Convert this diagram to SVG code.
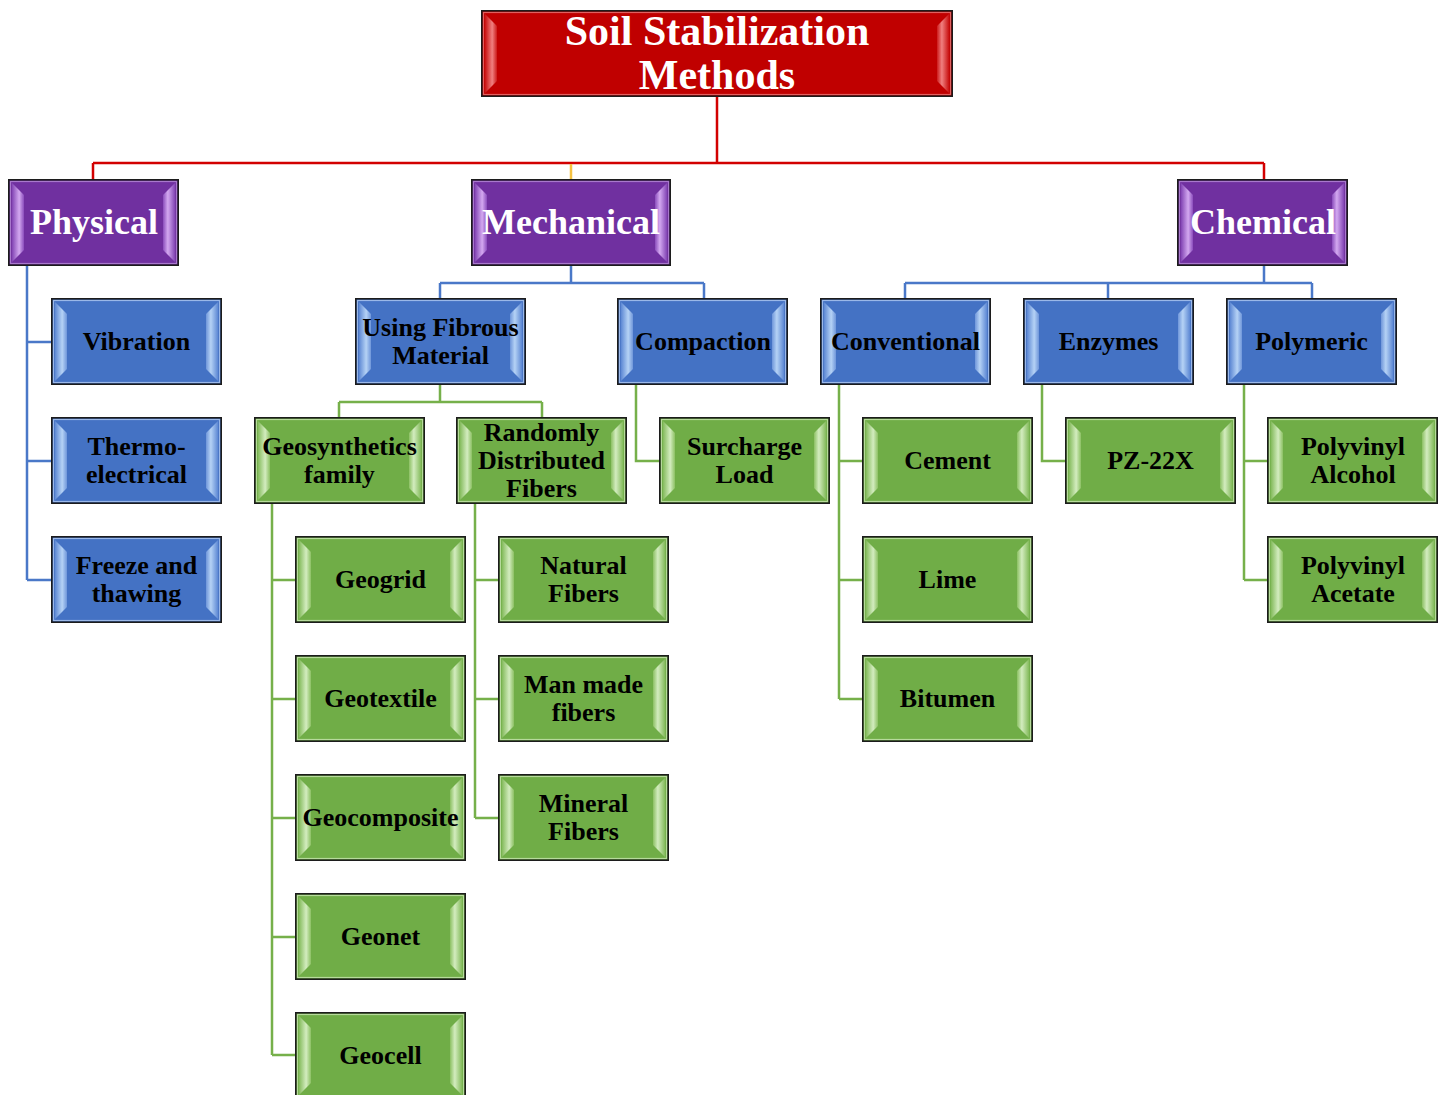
<svg xmlns="http://www.w3.org/2000/svg" xmlns:xlink="http://www.w3.org/1999/xlink" width="1446" height="1095" viewBox="0 0 1446 1095">
  <style>
    .lbl { font-family: "Liberation Serif", "Times New Roman", serif; font-weight: bold; font-size: 26px; fill: #000; text-anchor: middle; }
    .cat { font-family: "Liberation Serif", "Times New Roman", serif; font-weight: bold; font-size: 36px; fill: #fff; text-anchor: middle; }
    .ttl { font-family: "Liberation Serif", "Times New Roman", serif; font-weight: bold; font-size: 42px; fill: #fff; text-anchor: middle; }
    .edge { fill: none; stroke-width: 2.5; }
    .red { stroke: #d20000; }
    .gold { stroke: #f5c242; }
    .blue { stroke: #4a78c8; }
    .green { stroke: #76b04a; }
    .frame { fill: none; stroke: #1c1c1c; stroke-width: 1.6; }
  </style>
  <defs>
    <linearGradient id="bvBlueL" x1="0" x2="1" y1="0" y2="0">
      <stop offset="0" stop-color="#5d88d4"/>
      <stop offset="0.6" stop-color="#b5d2f5"/>
      <stop offset="1" stop-color="#6f96da"/>
    </linearGradient>
    <linearGradient id="bvBlueR" x1="1" x2="0" y1="0" y2="0">
      <stop offset="0" stop-color="#5d88d4"/>
      <stop offset="0.6" stop-color="#b5d2f5"/>
      <stop offset="1" stop-color="#6f96da"/>
    </linearGradient>
    <linearGradient id="bvGreenL" x1="0" x2="1" y1="0" y2="0">
      <stop offset="0" stop-color="#84bb5c"/>
      <stop offset="0.6" stop-color="#d3ecbf"/>
      <stop offset="1" stop-color="#8cc063"/>
    </linearGradient>
    <linearGradient id="bvGreenR" x1="1" x2="0" y1="0" y2="0">
      <stop offset="0" stop-color="#84bb5c"/>
      <stop offset="0.6" stop-color="#d3ecbf"/>
      <stop offset="1" stop-color="#8cc063"/>
    </linearGradient>
    <linearGradient id="bvPurpleL" x1="0" x2="1" y1="0" y2="0">
      <stop offset="0" stop-color="#8244b4"/>
      <stop offset="0.6" stop-color="#d3a8f0"/>
      <stop offset="1" stop-color="#8a4cbc"/>
    </linearGradient>
    <linearGradient id="bvPurpleR" x1="1" x2="0" y1="0" y2="0">
      <stop offset="0" stop-color="#8244b4"/>
      <stop offset="0.6" stop-color="#d3a8f0"/>
      <stop offset="1" stop-color="#8a4cbc"/>
    </linearGradient>
    <linearGradient id="bvRedL" x1="0" x2="1" y1="0" y2="0">
      <stop offset="0" stop-color="#c81010"/>
      <stop offset="0.6" stop-color="#f08080"/>
      <stop offset="1" stop-color="#cc1a1a"/>
    </linearGradient>
    <linearGradient id="bvRedR" x1="1" x2="0" y1="0" y2="0">
      <stop offset="0" stop-color="#c81010"/>
      <stop offset="0.6" stop-color="#f08080"/>
      <stop offset="1" stop-color="#cc1a1a"/>
    </linearGradient>

    <!-- bevelled tiles, 171 x 87 -->
    <symbol id="tileBlue" overflow="visible">
      <rect x="0" y="0" width="171" height="87" fill="#4472c4"/>
      <rect x="2.5" y="2.5" width="166" height="82" fill="none" stroke="#9bb8e8" stroke-width="1.2"/>
      <polygon points="4,4 16,16 16,71 4,83" fill="url(#bvBlueL)"/>
      <polygon points="167,4 155,16 155,71 167,83" fill="url(#bvBlueR)"/>
      <rect x="0.8" y="0.8" width="169.4" height="85.4" class="frame"/>
    </symbol>
    <symbol id="tileGreen" overflow="visible">
      <rect x="0" y="0" width="171" height="87" fill="#70ad47"/>
      <rect x="2.5" y="2.5" width="166" height="82" fill="none" stroke="#b7da9c" stroke-width="1.2"/>
      <polygon points="4,4 16,16 16,71 4,83" fill="url(#bvGreenL)"/>
      <polygon points="167,4 155,16 155,71 167,83" fill="url(#bvGreenR)"/>
      <rect x="0.8" y="0.8" width="169.4" height="85.4" class="frame"/>
    </symbol>
    <symbol id="tilePurple" overflow="visible">
      <rect x="0" y="0" width="171" height="87" fill="#7030a0"/>
      <rect x="2.5" y="2.5" width="166" height="82" fill="none" stroke="#a878cc" stroke-width="1.2"/>
      <polygon points="4,4 16,16 16,71 4,83" fill="url(#bvPurpleL)"/>
      <polygon points="167,4 155,16 155,71 167,83" fill="url(#bvPurpleR)"/>
      <rect x="0.8" y="0.8" width="169.4" height="85.4" class="frame"/>
    </symbol>
  </defs>

  <rect width="1446" height="1095" fill="#fff"/>

  <!-- connectors -->
  <g id="connectors">
    <!-- root to categories -->
    <path class="edge red" d="M717 97 V163 M93 163 H1264 M93 163 V179 M1264 163 V179"/>
    <path class="edge gold" d="M571 164 V179"/>
    <!-- Physical -->
    <path class="edge blue" d="M27 266 V580 M27 342 H51 M27 461 H51 M27 580 H51"/>
    <!-- Mechanical -->
    <path class="edge blue" d="M571 266 V283 M440 283 H704 M440 283 V298 M704 283 V298"/>
    <!-- Chemical -->
    <path class="edge blue" d="M1264 266 V283 M905 283 H1312 M905 283 V298 M1108 283 V298 M1312 283 V298"/>
    <!-- Using Fibrous Material -->
    <path class="edge green" d="M440 385 V402 M339 402 H542 M339 402 V417 M542 402 V417"/>
    <!-- Geosynthetics family -->
    <path class="edge green" d="M272 504 V1055 M272 580 H295 M272 699 H295 M272 818 H295 M272 937 H295 M272 1055 H295"/>
    <!-- Randomly Distributed Fibers -->
    <path class="edge green" d="M475 504 V818 M475 580 H498 M475 699 H498 M475 818 H498"/>
    <!-- Compaction -->
    <path class="edge green" d="M636 385 V461 H659"/>
    <!-- Conventional -->
    <path class="edge green" d="M839 385 V699 M839 461 H862 M839 580 H862 M839 699 H862"/>
    <!-- Enzymes -->
    <path class="edge green" d="M1042 385 V461 H1065"/>
    <!-- Polymeric -->
    <path class="edge green" d="M1244 385 V580 M1244 461 H1267 M1244 580 H1267"/>
  </g>

  <!-- root -->
  <g id="n-root">
    <rect x="481" y="10" width="472" height="87" fill="#c00000"/>
    <rect x="483.5" y="12.5" width="467" height="82" fill="none" stroke="#e06060" stroke-width="1.2"/>
    <polygon points="485,14 497,26 497,81 485,93" fill="url(#bvRedL)"/>
    <polygon points="949,14 937,26 937,81 949,93" fill="url(#bvRedR)"/>
    <rect x="481.8" y="10.8" width="470.4" height="85.4" class="frame"/>
    <text class="ttl" x="717" y="45">Soil Stabilization</text>
    <text class="ttl" x="717" y="89">Methods</text>
  </g>

  <!-- categories -->
  <g id="n-physical">
    <use xlink:href="#tilePurple" x="8" y="179"/>
    <text class="cat" x="94" y="234">Physical</text>
  </g>
  <g id="n-mechanical">
    <rect x="471" y="179" width="200" height="87" fill="#7030a0"/>
    <rect x="473.5" y="181.5" width="195" height="82" fill="none" stroke="#a878cc" stroke-width="1.2"/>
    <polygon points="475,183 487,195 487,250 475,262" fill="url(#bvPurpleL)"/>
    <polygon points="667,183 655,195 655,250 667,262" fill="url(#bvPurpleR)"/>
    <rect x="471.8" y="179.8" width="198.4" height="85.4" class="frame"/>
    <text class="cat" x="571" y="234">Mechanical</text>
  </g>
  <g id="n-chemical">
    <use xlink:href="#tilePurple" x="1177" y="179"/>
    <text class="cat" x="1263" y="234">Chemical</text>
  </g>

  <!-- Physical methods -->
  <g id="n-vibration">
    <use xlink:href="#tileBlue" x="51" y="298"/>
    <text class="lbl" x="136.5" y="350">Vibration</text>
  </g>
  <g id="n-thermo">
    <use xlink:href="#tileBlue" x="51" y="417"/>
    <text class="lbl" x="136.5" y="455">Thermo-</text>
    <text class="lbl" x="136.5" y="483">electrical</text>
  </g>
  <g id="n-freeze">
    <use xlink:href="#tileBlue" x="51" y="536"/>
    <text class="lbl" x="136.5" y="574">Freeze and</text>
    <text class="lbl" x="136.5" y="602">thawing</text>
  </g>

  <!-- Mechanical methods -->
  <g id="n-fibrous">
    <use xlink:href="#tileBlue" x="355" y="298"/>
    <text class="lbl" x="440.5" y="336">Using Fibrous</text>
    <text class="lbl" x="440.5" y="364">Material</text>
  </g>
  <g id="n-compaction">
    <use xlink:href="#tileBlue" x="617" y="298"/>
    <text class="lbl" x="703" y="350">Compaction</text>
  </g>

  <!-- Chemical methods -->
  <g id="n-conventional">
    <use xlink:href="#tileBlue" x="820" y="298"/>
    <text class="lbl" x="905.5" y="350">Conventional</text>
  </g>
  <g id="n-enzymes">
    <use xlink:href="#tileBlue" x="1023" y="298"/>
    <text class="lbl" x="1108.5" y="350">Enzymes</text>
  </g>
  <g id="n-polymeric">
    <use xlink:href="#tileBlue" x="1226" y="298"/>
    <text class="lbl" x="1311.5" y="350">Polymeric</text>
  </g>

  <!-- Fibrous material branches -->
  <g id="n-geosynthetics">
    <use xlink:href="#tileGreen" x="254" y="417"/>
    <text class="lbl" x="339.5" y="455">Geosynthetics</text>
    <text class="lbl" x="339.5" y="483">family</text>
  </g>
  <g id="n-randomly">
    <use xlink:href="#tileGreen" x="456" y="417"/>
    <text class="lbl" x="541.5" y="441">Randomly</text>
    <text class="lbl" x="541.5" y="469">Distributed</text>
    <text class="lbl" x="541.5" y="497">Fibers</text>
  </g>
  <g id="n-surcharge">
    <use xlink:href="#tileGreen" x="659" y="417"/>
    <text class="lbl" x="744.5" y="455">Surcharge</text>
    <text class="lbl" x="744.5" y="483">Load</text>
  </g>

  <!-- Geosynthetics -->
  <g id="n-geogrid">
    <use xlink:href="#tileGreen" x="295" y="536"/>
    <text class="lbl" x="380.5" y="588">Geogrid</text>
  </g>
  <g id="n-geotextile">
    <use xlink:href="#tileGreen" x="295" y="655"/>
    <text class="lbl" x="380.5" y="707">Geotextile</text>
  </g>
  <g id="n-geocomposite">
    <use xlink:href="#tileGreen" x="295" y="774"/>
    <text class="lbl" x="380.5" y="826">Geocomposite</text>
  </g>
  <g id="n-geonet">
    <use xlink:href="#tileGreen" x="295" y="893"/>
    <text class="lbl" x="380.5" y="945">Geonet</text>
  </g>
  <g id="n-geocell">
    <use xlink:href="#tileGreen" x="295" y="1012"/>
    <text class="lbl" x="380.5" y="1064">Geocell</text>
  </g>

  <!-- Fibers -->
  <g id="n-natural">
    <use xlink:href="#tileGreen" x="498" y="536"/>
    <text class="lbl" x="583.5" y="574">Natural</text>
    <text class="lbl" x="583.5" y="602">Fibers</text>
  </g>
  <g id="n-manmade">
    <use xlink:href="#tileGreen" x="498" y="655"/>
    <text class="lbl" x="583.5" y="693">Man made</text>
    <text class="lbl" x="583.5" y="721">fibers</text>
  </g>
  <g id="n-mineral">
    <use xlink:href="#tileGreen" x="498" y="774"/>
    <text class="lbl" x="583.5" y="812">Mineral</text>
    <text class="lbl" x="583.5" y="840">Fibers</text>
  </g>

  <!-- Conventional binders -->
  <g id="n-cement">
    <use xlink:href="#tileGreen" x="862" y="417"/>
    <text class="lbl" x="947.5" y="469">Cement</text>
  </g>
  <g id="n-lime">
    <use xlink:href="#tileGreen" x="862" y="536"/>
    <text class="lbl" x="947.5" y="588">Lime</text>
  </g>
  <g id="n-bitumen">
    <use xlink:href="#tileGreen" x="862" y="655"/>
    <text class="lbl" x="947.5" y="707">Bitumen</text>
  </g>

  <!-- Enzymes -->
  <g id="n-pz22x">
    <use xlink:href="#tileGreen" x="1065" y="417"/>
    <text class="lbl" x="1150.5" y="469">PZ-22X</text>
  </g>

  <!-- Polymers -->
  <g id="n-pva">
    <use xlink:href="#tileGreen" x="1267" y="417"/>
    <text class="lbl" x="1353" y="455">Polyvinyl</text>
    <text class="lbl" x="1353" y="483">Alcohol</text>
  </g>
  <g id="n-pvac">
    <use xlink:href="#tileGreen" x="1267" y="536"/>
    <text class="lbl" x="1353" y="574">Polyvinyl</text>
    <text class="lbl" x="1353" y="602">Acetate</text>
  </g>
</svg>
